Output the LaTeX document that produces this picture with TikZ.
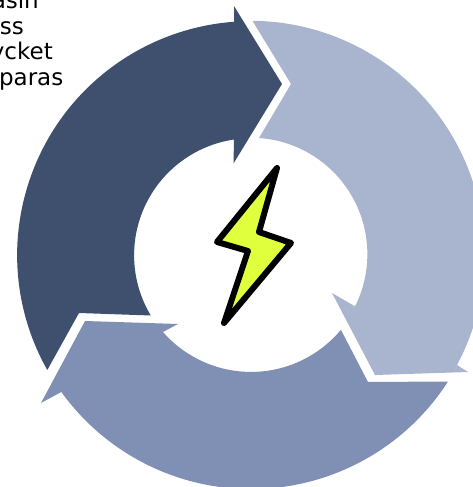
\documentclass[tikz,border=0pt]{standalone}
\usepackage{fontspec}
\setmainfont{DejaVu Sans}
\definecolor{darkarrow}{HTML}{3F4F6E}
\definecolor{midarrow}{HTML}{7F90B4}
\definecolor{lightarrow}{HTML}{A9B5CE}
\definecolor{bolt}{HTML}{E0FF3C}
\tikzset{
  cyclearrow/.style={draw=none},
  boltshape/.style={draw=black,fill=bolt,line width=6pt,line join=round},
  cliptext/.style={anchor=base east,inner sep=0pt,font=\fontsize{23}{24}\selectfont,text=black}
}
\begin{document}
\begin{tikzpicture}[x=1pt,y=1pt]
\useasboundingbox (-251,-232) rectangle (221,255);
% clipped caption
\node[cliptext] (t1) at (-212,246) {asin};
\node[cliptext] (t2) at (-227,220) {ss};
\node[cliptext] (t3) at (-198,195) {ycket};
\node[cliptext] (t4) at (-187.5,169) {paras};
% light arrow
\fill[lightarrow,cyclearrow] (2,233.3) -- (40,171) -- (8,117)
  arc[start angle=86,end angle=-26.6,radius=116.5]
  -- (81,-38) -- (124,-120) -- (217,-117) -- (206,-110)
  arc[start angle=-28.1,end angle=89.5,radius=234] -- cycle;
% middle arrow
\fill[midarrow,cyclearrow] (197,-126.5)
  arc[start angle=-32.7,end angle=-144.2,radius=234]
  -- (-210,-148) -- (-166,-66) -- (-73,-69) -- (-88,-77)
  arc[start angle=-138.8,end angle=-39.8,radius=117]
  -- (117,-127) -- cycle;
% dark arrow
\fill[darkarrow,cyclearrow] (-203.7,-115)
  arc[start angle=209.4,end angle=94.2,radius=234]
  -- (-17,249) -- (31,171) -- (-17.5,91.5) -- (-17,115.5)
  arc[start angle=98.4,end angle=211,radius=117]
  -- (-172,-58) -- cycle;
% lightning bolt
\draw[boltshape] (26,87) -- (-34,13) -- (-3,4) -- (-27,-68) -- (40,12) -- (8,23) -- cycle;
\end{tikzpicture}
\end{document}
